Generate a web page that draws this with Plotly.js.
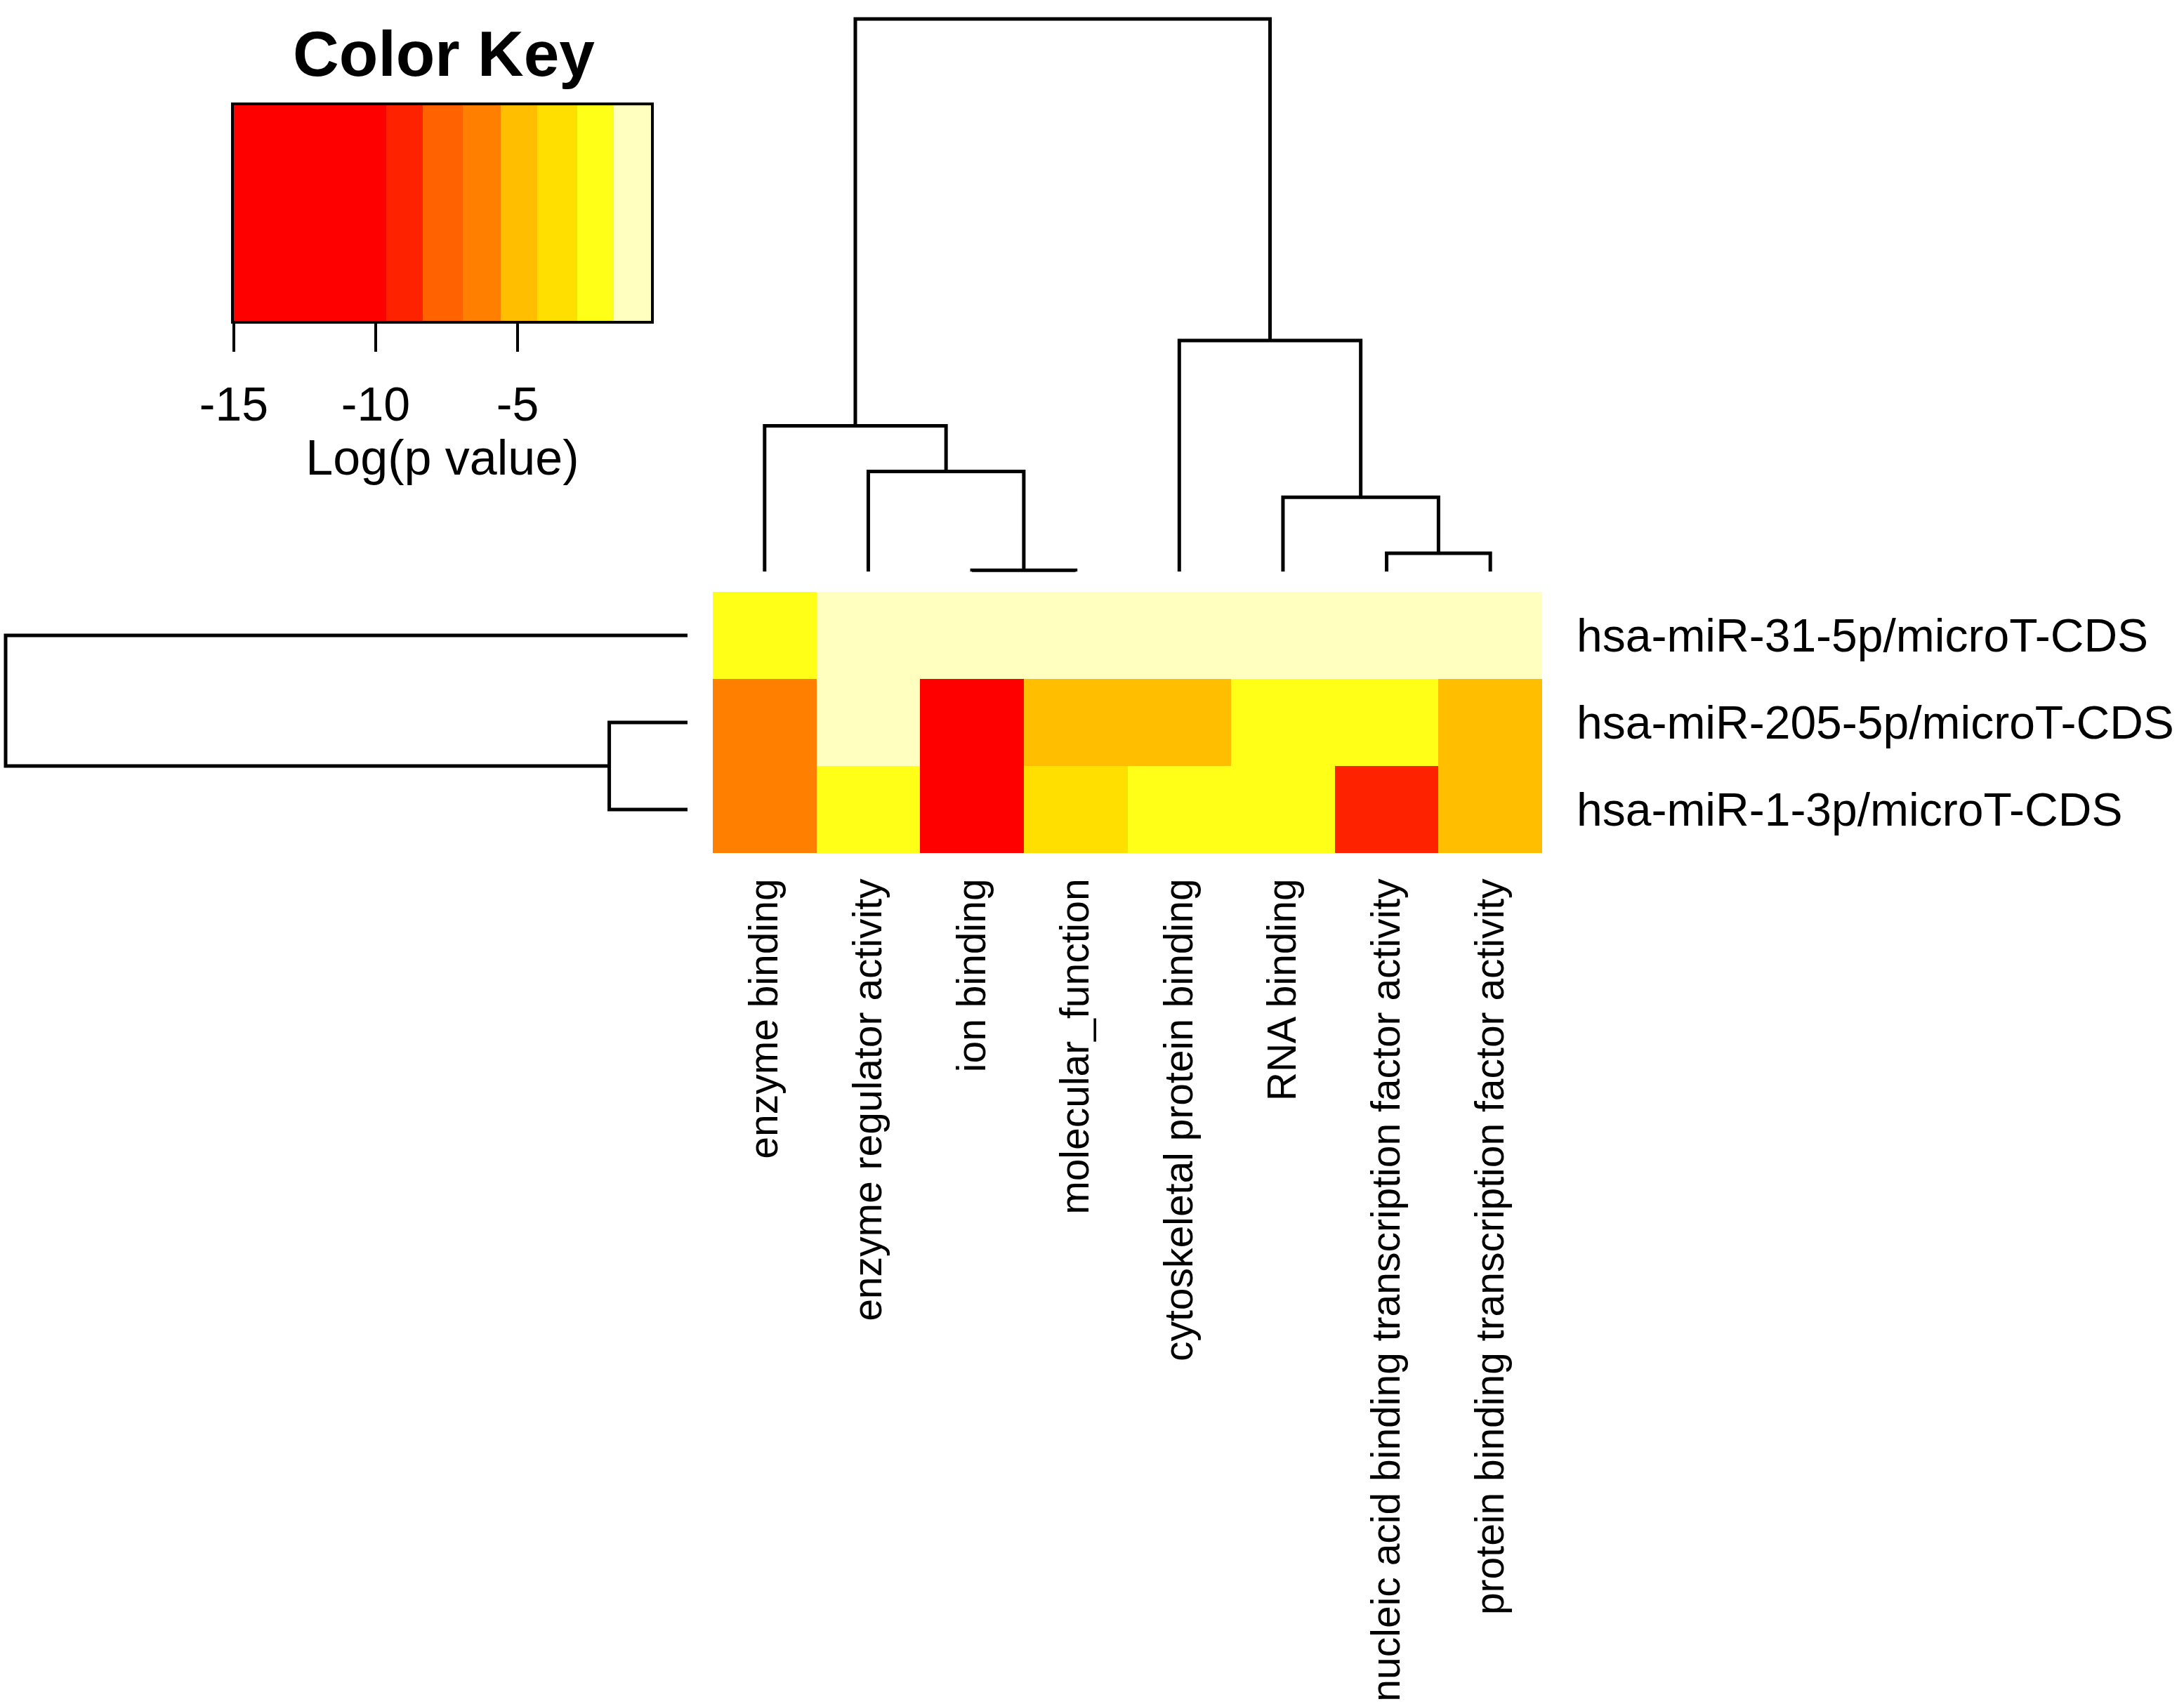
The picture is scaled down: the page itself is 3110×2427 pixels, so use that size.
<!DOCTYPE html>
<html>
<head>
<meta charset="utf-8">
<script src="https://cdn.plot.ly/plotly-3.0.1.min.js"></script>
<style>html,body{margin:0;padding:0;background:#fff;} #chart{width:3110px;height:2427px;}</style>
</head>
<body>
<div id="chart"></div>
<script>
// ---------------- data ----------------
const colLabels = ['enzyme binding', 'enzyme regulator activity', 'ion binding', 'molecular_function',
  'cytoskeletal protein binding', 'RNA binding', 'nucleic acid binding transcription factor activity',
  'protein binding transcription factor activity'];
const rowLabels = ['hsa-miR-31-5p/microT-CDS', 'hsa-miR-205-5p/microT-CDS', 'hsa-miR-1-3p/microT-CDS'];
const logP_miR31  = [-2.2, -0.8, -0.8, -0.8, -0.8, -0.8, -0.8, -0.8];
const logP_miR205 = [-6.3, -0.8, -13.0, -5.0, -4.9, -2.3, -2.2, -4.8];
const logP_miR1   = [-6.2, -2.4, -15.0, -3.6, -2.5, -2.1, -9.0, -4.7];
const keyBreaks = [-15, -9.63, -8.33, -6.94, -5.6, -4.3, -2.9, -1.6, -0.3];
const keyColors = ['#FF0000', '#FF2200', '#FF6200', '#FF8000', '#FFBF00', '#FFDF00', '#FFFF18', '#FFFFBF'];
const keyTicks = [-15, -10, -5];
const keyTickText = ['-15', '-10', '-5'];
// hclust-style merges (negative = leaf index, positive = earlier merge)
const colMerge  = [[-3, -4], [-7, -8], [-2, 1], [-6, 2], [-1, 3], [-5, 4], [5, 6]];
const colHeight = [0.03, 0.48, 2.63, 1.95, 3.83, 6.07, 14.52];
const rowMerge  = [[-2, -3], [-1, 1]];
const rowHeight = [0.56, 4.88];

// ---------------- helpers ----------------
const W = 3110, H = 2427;
function xDom(v0, p0, v1, p1, r) { // pixel mapping -> domain for range r
  const f = v => p0 + (v - v0) * (p1 - p0) / (v1 - v0);
  return [f(r[0]) / W, f(r[1]) / W];
}
function yDom(v0, p0, v1, p1, r) { // r[0] is the bottom value
  const f = v => p0 + (v - v0) * (p1 - p0) / (v1 - v0);
  return [1 - f(r[0]) / H, 1 - f(r[1]) / H];
}
function dendro(merge, heights) {
  const pos = [], hs = [], a = [], b = [];
  merge.forEach((m, k) => {
    const kids = m.map(c => c < 0 ? [-c - 1, 0] : [pos[c - 1], hs[c - 1]]);
    const h = heights[k];
    a.push(kids[0][0], kids[0][0], kids[1][0], kids[1][0], null);
    b.push(kids[0][1], h, h, kids[1][1], null);
    pos.push((kids[0][0] + kids[1][0]) / 2);
    hs.push(h);
  });
  return {a, b};
}
const zmin = keyBreaks[0], zmax = keyBreaks[keyBreaks.length - 1];
const colorscale = [];
keyColors.forEach((c, i) => {
  colorscale.push([(keyBreaks[i] - zmin) / (zmax - zmin), c]);
  colorscale.push([(keyBreaks[i + 1] - zmin) / (zmax - zmin), c]);
});
const keyMid = keyColors.map((c, i) => (keyBreaks[i] + keyBreaks[i + 1]) / 2);

const colD = dendro(colMerge, colHeight);
const rowD = dendro(rowMerge, rowHeight);

const font = 'Liberation Sans, Arial, Helvetica, sans-serif';
const lineStyle = {color: '#000', width: 5};

const traces = [
  {type: 'heatmap', x: colLabels.map((l, i) => i), y: rowLabels.map((l, i) => i),
   z: [logP_miR31, logP_miR205, logP_miR1], zmin, zmax, colorscale, showscale: false,
   xaxis: 'x', yaxis: 'y', hoverinfo: 'z'},
  {type: 'scatter', mode: 'lines', x: colD.a, y: colD.b, line: lineStyle, xaxis: 'x', yaxis: 'y2',
   hoverinfo: 'skip'},
  {type: 'scatter', mode: 'lines', x: rowD.b, y: rowD.a, line: lineStyle, xaxis: 'x4', yaxis: 'y',
   hoverinfo: 'skip'},
  {type: 'heatmap', x: keyBreaks, y: [0], z: [keyMid], zmin, zmax, colorscale, showscale: false,
   xaxis: 'x3', yaxis: 'y3', hoverinfo: 'skip'}
];

const hidden = {visible: false, showgrid: false, zeroline: false, fixedrange: true};
const heatX = [-0.5, 7.5], heatY = [2.5, -0.5];
const layout = {
  width: W, height: H, margin: {l: 0, r: 0, t: 0, b: 0},
  paper_bgcolor: '#fff', plot_bgcolor: 'rgba(0,0,0,0)', showlegend: false,
  font: {family: font, color: '#000'},
  title: {text: '<b>Color Key</b>', x: 632 / W, y: 1 - 76 / H, xanchor: 'center', yanchor: 'middle',
          xref: 'paper', yref: 'paper', font: {size: 91, family: font, color: '#000'}},
  xaxis: {domain: xDom(-0.5, 1015, 7.5, 2196, heatX), range: heatX, anchor: 'y',
          tickmode: 'array', tickvals: colLabels.map((l, i) => i), ticktext: colLabels,
          tickangle: -90, ticks: '', ticklen: 0, ticklabelstandoff: 24,
          tickfont: {size: 57, family: font, color: '#000'},
          showgrid: false, zeroline: false, showline: false, fixedrange: true},
  yaxis: {domain: yDom(2.5, 1215, -0.5, 843, heatY), range: heatY, anchor: 'x', side: 'right',
          tickmode: 'array', tickvals: rowLabels.map((l, i) => i), ticktext: rowLabels,
          ticks: '', ticklen: 0, ticklabelstandoff: 48,
          tickfont: {size: 66, family: font, color: '#000'},
          showgrid: false, zeroline: false, showline: false, fixedrange: true},
  yaxis2: Object.assign({domain: yDom(0, 814, 14.52, 27, [-0.3, 15]), range: [-0.3, 15], anchor: 'x'}, hidden),
  xaxis4: Object.assign({domain: xDom(0, 979, 4.88, 8, [4.92, -0.05]), range: [4.92, -0.05], anchor: 'y'}, hidden),
  xaxis3: {domain: xDom(-15, 333, -5, 737, [zmin, zmax]), range: [zmin, zmax], anchor: 'y3',
           tickmode: 'array', tickvals: keyTicks, ticktext: keyTickText,
           ticks: 'outside', ticklen: 40, tickwidth: 4, tickcolor: '#000',
           tickfont: {size: 68, family: font, color: '#000'}, ticklabelstandoff: 16,
           showline: true, linewidth: 4, linecolor: '#000', mirror: true,
           showgrid: false, zeroline: false, fixedrange: true,
           title: {text: 'Log(p value)', standoff: 10, font: {size: 70, family: font, color: '#000'}}},
  yaxis3: {domain: yDom(-0.5, 457, 0.5, 150, [-0.5, 0.5]), range: [-0.5, 0.5], anchor: 'x3',
           showticklabels: false, ticks: '', showline: true, linewidth: 4, linecolor: '#000', mirror: true,
           showgrid: false, zeroline: false, fixedrange: true}
};

Plotly.newPlot('chart', traces, layout, {staticPlot: true, displayModeBar: false});
</script>
</body>
</html>
